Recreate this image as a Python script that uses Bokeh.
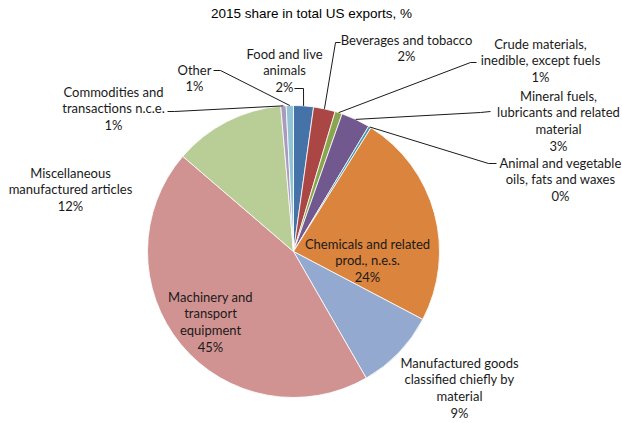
import math
from bokeh.plotting import figure
from bokeh.models import Range1d, ColumnDataSource
from bokeh.core.properties import value
from bokeh.embed import file_html
from bokeh.resources import INLINE

W, H = 622, 423

# ---- data ----
categories = [
    "Food and live\nanimals",
    "Beverages and tobacco",
    "Crude materials,\ninedible, except fuels",
    "Mineral fuels,\nlubricants and related\nmaterial",
    "Animal and vegetable\noils, fats and waxes",
    "Chemicals and related\nprod., n.e.s.",
    "Manufactured goods\nclassified chiefly by\nmaterial",
    "Machinery and\ntransport\nequipment",
    "Miscellaneous\nmanufactured articles",
    "Commodities and\ntransactions n.c.e.",
    "Other",
]
shares = [2.2, 2.4, 0.8, 3.2, 0.3, 23.8, 9.0, 44.6, 12.3, 0.6, 0.8]
colors = ["#4572A7", "#AA4643", "#89A54E", "#71588F", "#4198AF", "#DB843D",
          "#93A9CF", "#D19392", "#B9CD96", "#A99BBD", "#91C3D5"]
title_text = "2015 share in total US exports, %"

# ---- layout (pixel coords, y down) ----
CX, CY, R = 293, 251, 146
label_x = [284, 406, 540, 558, 560, 367, 459, 210, 70, 113, 194]
label_y = [53, 39, 43, 95, 162, 243, 362, 296, 172, 91, 69]
LINE_H = 16.8
# leader lines: (text-side point, elbow point) or None
leaders = [
    ((294, 88), (303, 88)),
    ((340, 42), (335, 42)),
    ((476, 62), (470, 62)),
    ((490, 111), (480, 112)),
    ((496, 163), (488, 163)),
    None, None, None, None,
    ((167, 111), (174, 111)),
    ((213, 70), (220, 70)),
]

def Y(y):
    return H - y

p = figure(width=W, height=H, output_backend="svg", toolbar_location=None,
           x_range=Range1d(0, W), y_range=Range1d(0, H), min_border=0)
p.axis.visible = False
p.grid.visible = False
p.outline_line_color = None
p.background_fill_color = "white"

total = sum(shares)
cum = 0.0
starts, ends, mids = [], [], []
for s in shares:
    t1 = cum / total * 2 * math.pi
    cum += s
    t2 = cum / total * 2 * math.pi
    starts.append(math.pi / 2 - t2)
    ends.append(math.pi / 2 - t1)
    mids.append((t1 + t2) / 2)

src = ColumnDataSource(dict(start=starts, end=ends, color=colors))
p.wedge(x=CX, y=Y(CY), radius=R, start_angle="start", end_angle="end",
        fill_color="color", line_color="white", line_width=0.8, source=src)

# leader lines
for i, ld in enumerate(leaders):
    if ld is None:
        continue
    t = mids[i]
    rx = CX + R * math.sin(t)
    ry = CY - R * math.cos(t)
    xs = [ld[0][0], ld[1][0], rx]
    ys = [Y(ld[0][1]), Y(ld[1][1]), Y(ry)]
    p.line(xs, ys, line_color="#1a1a1a", line_width=1)

# labels
tx, ty, tt = [], [], []
for i, cat in enumerate(categories):
    pct = f"{round(shares[i] / total * 100):.0f}%"
    lines = cat.split("\n") + [pct]
    for j, ln in enumerate(lines):
        tx.append(label_x[i])
        ty.append(Y(label_y[i] + j * LINE_H))
        tt.append(ln)
p.text(x=tx, y=ty, text=tt, text_font=value("Lato"), text_font_size="13px",
       text_align="center", text_baseline="middle", text_color="#1a1a1a")

p.text(x=[311], y=[Y(13)], text=[title_text], text_font=value("Liberation Sans"),
       text_font_size="13.5px", text_align="center", text_baseline="middle",
       text_color="#000000")

open("out.html", "w").write(file_html(p, INLINE))
